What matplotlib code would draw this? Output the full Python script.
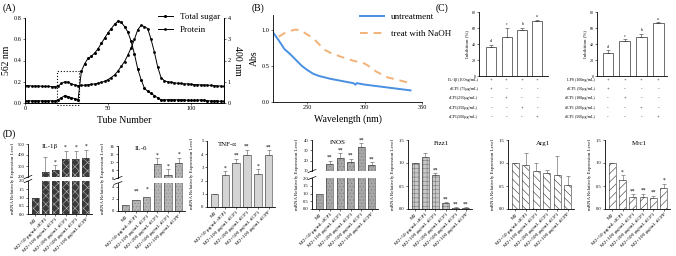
import matplotlib
matplotlib.use('Agg')
import matplotlib.pyplot as plt
import matplotlib.transforms as mtrans
from matplotlib.patches import Rectangle
import numpy as np

plt.rcParams['font.family'] = ['Liberation Serif', 'DejaVu Serif']
plt.rcParams['hatch.linewidth'] = 0.4
plt.rcParams['axes.linewidth'] = 0.6

# ---- (A) elution profile ----
tubes = list(range(0, 121, 2))
sugar = [0.02, 0.02, 0.02, 0.02, 0.02, 0.02, 0.02, 0.02, 0.02, 0.02,
         0.03, 0.05, 0.07, 0.06, 0.05, 0.04, 0.03,
         0.30, 0.37, 0.42, 0.44, 0.47, 0.51, 0.56, 0.61, 0.66, 0.70, 0.74, 0.77,
         0.76, 0.72, 0.67, 0.58, 0.46, 0.32, 0.22, 0.14, 0.11, 0.09, 0.07, 0.05, 0.03,
         0.03, 0.03, 0.03, 0.03, 0.03, 0.03, 0.03, 0.025, 0.025, 0.025, 0.025,
         0.03, 0.025, 0.02, 0.02, 0.02, 0.02, 0.015, 0.015]
protein = [0.82, 0.82, 0.80, 0.80, 0.80, 0.79, 0.78, 0.78, 0.77, 0.77,
           0.80, 0.92, 1.00, 0.98, 0.90, 0.85, 0.82,
           0.83, 0.84, 0.86, 0.88, 0.90, 0.93, 0.97, 1.02, 1.10, 1.20, 1.32, 1.50,
           1.72, 1.95, 2.25, 2.60, 3.00, 3.45, 3.65, 3.60, 3.50, 3.00, 2.40, 1.70, 1.20,
           1.05, 1.00, 0.98, 0.95, 0.93, 0.92, 0.90, 0.90, 0.88, 0.87, 0.86,
           0.85, 0.85, 0.84, 0.83, 0.82, 0.80, 0.80, 0.78]

# ---- (B) UV spectra ----
wl_untreat = [220, 225, 230, 235, 240, 245, 250, 255, 260, 270, 280, 290, 292, 293, 300, 310, 320, 330, 340]
abs_untreat = [0.96, 0.85, 0.73, 0.66, 0.58, 0.50, 0.44, 0.39, 0.36, 0.32, 0.29, 0.26, 0.24, 0.26,
               0.24, 0.22, 0.20, 0.18, 0.16]
wl_naoh = [225, 230, 235, 240, 245, 250, 255, 260, 265, 270, 280, 290, 300, 305, 310, 320, 330, 340]
abs_naoh = [0.90, 0.95, 0.98, 1.00, 0.98, 0.93, 0.88, 0.80, 0.72, 0.68, 0.62, 0.57, 0.53, 0.48,
            0.42, 0.34, 0.30, 0.26]

# ---- (C) inhibition ----
c1_vals = [36, 49, 57, 69]
c1_err = [3, 11, 3, 1]
c2_vals = [29, 44, 49, 66]
c2_err = [3, 2, 4, 1]
c_letters = ['d', 'c', 'b', 'a']
c1_rows = ['IL-1β (100ng/mL)', 'dCP1 (75μg/mL)', 'dCP1(250μg/mL)', 'dCP1(350μg/mL)', 'dCP1(500μg/mL)']
c2_rows = ['LPS (100ng/mL)', 'dCP1 (50μg/mL)', 'dCP1 (100μg/mL)', 'dCP1 (200μg/mL)', 'dCP1 (500μg/mL)']
c_signs = [['+', '+', '+', '+'],
           ['+', '-', '-', '-'],
           ['-', '+', '-', '-'],
           ['-', '-', '+', '-'],
           ['-', '-', '-', '+']]

# ---- (D) mRNA ----
d_labels = ['M2', 'M2+50 μg/mL dCP1', 'M2+100 μg/mL dCP1', 'M2+200 μg/mL dCP1',
            'M2+500 μg/mL dCP1', 'M2+100 μg/mL dCPP']
il1b = [1, 250, 265, 360, 360, 375]
il1b_err = [0, 130, 40, 80, 80, 75]
il1b_sig = ['', '', '*', '*', '*', '*']
il6 = [1, 1.8, 2.3, 9.5, 6.8, 9.7]
il6_err = [0, 0.12, 0.15, 1.5, 1.4, 1.4]
il6_sig = ['', '**', '*', '*', '*', '*']
tnf = [1, 2.45, 3.3, 3.95, 2.5, 3.95]
tnf_err = [0, 0.25, 0.35, 0.4, 0.35, 0.35]
tnf_sig = ['', '*', '**', '**', '*', '**']
inos = [1, 17, 23, 19, 33, 16]
inos_err = [0, 3, 4, 3, 4, 3]
inos_sig = ['', '**', '**', '**', '**', '**']
fizz = [1.0, 1.13, 0.75, 0.12, 0.03, 0.03]
fizz_err = [0, 0.08, 0.03, 0.03, 0.01, 0.01]
fizz_sig = ['', '', '**', '**', '**', '**']
arg = [1.0, 0.96, 0.83, 0.79, 0.75, 0.52]
arg_err = [0, 0.26, 0.17, 0.06, 0.4, 0.2]
arg_sig = ['', '', '', '', '', '']
mrc = [1.0, 0.63, 0.27, 0.27, 0.24, 0.45]
mrc_err = [0, 0.1, 0.05, 0.06, 0.05, 0.1]
mrc_sig = ['', '*', '**', '**', '**', '*']

W, H = 676, 256
fig = plt.figure(figsize=(W / 100, H / 100), dpi=100)


def px_axes(x0, y0, x1, y1):
    return fig.add_axes([x0 / W, 1 - y1 / H, (x1 - x0) / W, (y1 - y0) / H])


def small_ticks(ax, size):
    ax.tick_params(labelsize=size, length=1.5, width=0.4, pad=1)


# ================= (A) =================
axA = px_axes(25, 18, 224, 103)
l1, = axA.plot(tubes, sugar, '-', color='k', lw=0.7, marker='o', ms=1.2, label='Total sugar')
axA2 = axA.twinx()
l2, = axA2.plot(tubes, protein, '-', color='k', lw=0.7, marker='s', ms=0.9, label='Protein')
axA.set_xlim(0, 120)
axA.set_ylim(0, 0.8)
axA2.set_ylim(0, 4)
axA.set_xticks([0, 50, 100])
axA.set_yticks([0, 0.2, 0.4, 0.6, 0.8])
axA.set_yticklabels(['0.0', '0.2', '0.4', '0.6', '0.8'])
axA2.set_yticks([0, 1, 2, 3, 4])
small_ticks(axA, 4.5)
small_ticks(axA2, 4.5)
axA.spines['top'].set_visible(False)
axA2.spines['top'].set_visible(False)
axA.set_xlabel('Tube Number', fontsize=7, labelpad=3)
axA.set_ylabel('562 nm', fontsize=7, labelpad=2)
axA2.set_ylabel('400 nm', fontsize=7, rotation=270, labelpad=8)
axA.add_patch(Rectangle((19.5, -0.02), 13, 0.32, fill=False, ls=':', lw=0.8, clip_on=False))
fig.legend(handles=[l1, l2], loc='upper left', bbox_to_anchor=(150 / W, 1 - 5 / H),
           frameon=False, fontsize=6.5, handlelength=1.6, labelspacing=0.5)
fig.text(3 / W, 1 - 8 / H, '(A)', fontsize=7, va='center')

# ================= (B) =================
axB = px_axes(273, 15, 422, 102)
b1, = axB.plot(wl_untreat, abs_untreat, color='#4a90e2', lw=1.4, label='untreatment')
b2, = axB.plot(wl_naoh, abs_naoh, color='#f2b277', lw=1.4, ls=(0, (4, 3)), label='treat with NaOH')
axB.set_xlim(220, 350)
axB.set_ylim(0, 1.2)
axB.set_xticks([250, 300, 350])
axB.set_yticks([0, 0.5, 1.0])
axB.set_yticklabels(['0.0', '0.5', '1.0'])
small_ticks(axB, 4.5)
axB.spines['top'].set_visible(False)
axB.spines['right'].set_visible(False)
axB.set_xlabel('Wavelength (nm)', fontsize=7, labelpad=3)
axB.set_ylabel('Abs', fontsize=7, labelpad=2)
fig.legend(handles=[b1, b2], loc='upper left', bbox_to_anchor=(352 / W, 1 - 5 / H),
           frameon=False, fontsize=6.5, handlelength=2.6, labelspacing=0.9)
fig.text(252 / W, 1 - 8 / H, '(B)', fontsize=7, va='center')

# ================= (C) =================
row_y = [80, 89, 98, 108, 117]


def inhibition(ax, vals, errs, rows, xlim, label_right):
    x = np.arange(len(vals))
    ax.bar(x, vals, width=0.65, color='white', edgecolor='#333', lw=0.5)
    ax.errorbar(x, vals, yerr=[np.zeros(len(errs)), errs], fmt='none', ecolor='#333',
                elinewidth=0.4, capsize=1.2, capthick=0.4)
    for xi, v, e, t in zip(x, vals, errs, c_letters):
        ax.text(xi, v + e + 2, t, ha='center', va='bottom', fontsize=3)
    ax.set_xlim(*xlim)
    ax.set_ylim(0, 80)
    ax.set_yticks([0, 20, 40, 60, 80])
    ax.set_xticks([])
    small_ticks(ax, 3)
    ax.spines['top'].set_visible(False)
    ax.spines['right'].set_visible(False)
    ax.set_ylabel('Inhibition (%)', fontsize=3.5, labelpad=2)
    tr = mtrans.blended_transform_factory(ax.transData, fig.transFigure)
    for r, (lab, signs) in enumerate(zip(rows, c_signs)):
        yy = 1 - row_y[r] / H
        fig.text(label_right / W, yy, lab, fontsize=3, ha='right', va='center')
        for xi, s in zip(x, signs):
            ax.text(xi, yy, s, transform=tr, fontsize=3.5, ha='center', va='center')


axC1 = px_axes(479, 12, 548, 76)
inhibition(axC1, c1_vals, c1_err, c1_rows, (-0.8, 3.7), 478)
axC2 = px_axes(597, 12, 667, 76)
inhibition(axC2, c2_vals, c2_err, c2_rows, (-0.66, 3.53), 595)
fig.text(436 / W, 1 - 8 / H, '(C)', fontsize=7, va='center')

# ================= (D) =================
XL = (-0.7, 5.6)


def hbars(ax, vals, face, hatch, hcol):
    x = np.arange(len(vals))
    ax.bar(x, vals, width=0.7, color=face, edgecolor=hcol, hatch=hatch, lw=0)
    ax.bar(x, vals, width=0.7, fill=False, edgecolor='#333', lw=0.4)


def errs_stars(ax, vals, errs, sig, off):
    x = np.arange(len(vals))
    ax.errorbar(x, vals, yerr=[np.zeros(len(errs)), errs], fmt='none', ecolor='#555',
                elinewidth=0.4, capsize=1.2, capthick=0.4)
    for xi, v, e, s in zip(x, vals, errs, sig):
        if s:
            ax.text(xi, v + e + off, s, ha='center', va='bottom', fontsize=4, clip_on=False)


def finish(ax, xlabels=True):
    ax.set_xlim(*XL)
    ax.spines['top'].set_visible(False)
    ax.spines['right'].set_visible(False)
    small_ticks(ax, 3.3)
    if xlabels:
        ax.set_xticks(range(6))
        ax.set_xticklabels(d_labels, rotation=45, ha='right', rotation_mode='anchor', fontsize=3.8)
    else:
        ax.set_xticks([])


def ylab(x_spine, y0, y1):
    fig.text((x_spine - 15) / W, 1 - (y0 + y1) / 2 / H, 'mRNA Relatively Expression Level',
             rotation=90, fontsize=3.5, ha='center', va='center')


def breakmark(ax, where):
    d = 0.05
    y = 1 if where == 'top' else 0
    ax.plot([-0.06, 0.06], [y - d, y + d], transform=ax.transAxes, color='k', lw=0.5, clip_on=False)


def plain_panel(x0, x1, y0, y1, title, tx, vals, errs, sig, ylim, ticks, ticklabels,
                face, hatch, hcol, off):
    ax = px_axes(x0, y0, x1, y1)
    hbars(ax, vals, face, hatch, hcol)
    errs_stars(ax, vals, errs, sig, off)
    ax.set_ylim(*ylim)
    ax.set_yticks(ticks)
    ax.set_yticklabels(ticklabels)
    finish(ax)
    ax.text(tx, ylim[1] * 0.98, title, ha='center', va='top', fontsize=5)
    ylab(x0, y0, y1)
    return ax


def broken_panel(x0, x1, yu0, yu1, yl0, yl1, title, tx, vals, errs, sig, lo, hi, lo_ticks, lo_lab,
                 hi_ticks, face, hatch, hcol, off):
    axl = px_axes(x0, yl0, x1, yl1)
    axu = px_axes(x0, yu0, x1, yu1)
    for ax in (axl, axu):
        hbars(ax, vals, face, hatch, hcol)
    errs_stars(axu, vals, errs, sig, off)
    axl.set_ylim(*lo)
    axu.set_ylim(*hi)
    axl.set_yticks(lo_ticks)
    axl.set_yticklabels(lo_lab)
    axu.set_yticks(hi_ticks)
    finish(axl)
    finish(axu, xlabels=False)
    axu.spines['bottom'].set_visible(False)
    breakmark(axl, 'top')
    breakmark(axu, 'bottom')
    axu.text(tx, hi[1] * 0.995, title, ha='center', va='top', fontsize=5)
    ylab(x0, yu0, yl1)


broken_panel(28, 92, 144, 177, 181, 214, 'IL-1β', 1.4, il1b, il1b_err, il1b_sig,
             (0, 2.0), (200, 500), [0, 0.5, 1.0, 1.5, 2.0], ['0.0', '0.5', '1.0', '1.5', '2.0'],
             [200, 300, 400, 500], '#3a3a3a', 'xxxx', '#bdbdbd', 5)
broken_panel(118, 185, 146, 178, 183, 211, 'IL-6', 1.5, il6, il6_err, il6_sig,
             (0, 4.6), (6, 14), [0, 2, 4], ['0', '2', '4'],
             [6, 8, 10, 12, 14], '#b5b5b5', '.....', '#8a8a8a', 0.2)
plain_panel(207, 275, 141, 207, 'TNF-α', 1.2, tnf, tnf_err, tnf_sig, (0, 5), [0, 1, 2, 3, 4, 5],
            ['0', '1', '2', '3', '4', '5'], '#d4d4d4', None, '#d4d4d4', 0.08)
broken_panel(312, 378, 140, 171, 178, 209, 'iNOS', 1.8, inos, inos_err, inos_sig,
             (0, 2.0), (10, 40), [0, 0.5, 1.0, 1.5, 2.0], ['0.0', '0.5', '1.0', '1.5', '2.0'],
             [10, 20, 30, 40], '#a8a8a8', '.....', '#7a7a7a', 0.5)
plain_panel(408, 472, 140, 209, 'Fizz1', 2.6, fizz, fizz_err, fizz_sig, (0, 1.5), [0, 0.5, 1.0, 1.5],
            ['0.0', '0.5', '1.0', '1.5'], '#c8c8c8', '++++', '#7a7a7a', 0.02)
plain_panel(508, 574, 140, 209, 'Arg1', 2.6, arg, arg_err, arg_sig, (0, 1.5), [0, 0.5, 1.0, 1.5],
            ['0.0', '0.5', '1.0', '1.5'], 'white', '\\\\\\\\', '#333333', 0.02)
plain_panel(605, 670, 140, 209, 'Mrc1', 2.6, mrc, mrc_err, mrc_sig, (0, 1.5), [0, 0.5, 1.0, 1.5],
            ['0.0', '0.5', '1.0', '1.5'], 'white', '////', '#333333', 0.02)
fig.text(3 / W, 1 - 134 / H, '(D)', fontsize=7, va='center')

fig.savefig('out.png', dpi=100)
